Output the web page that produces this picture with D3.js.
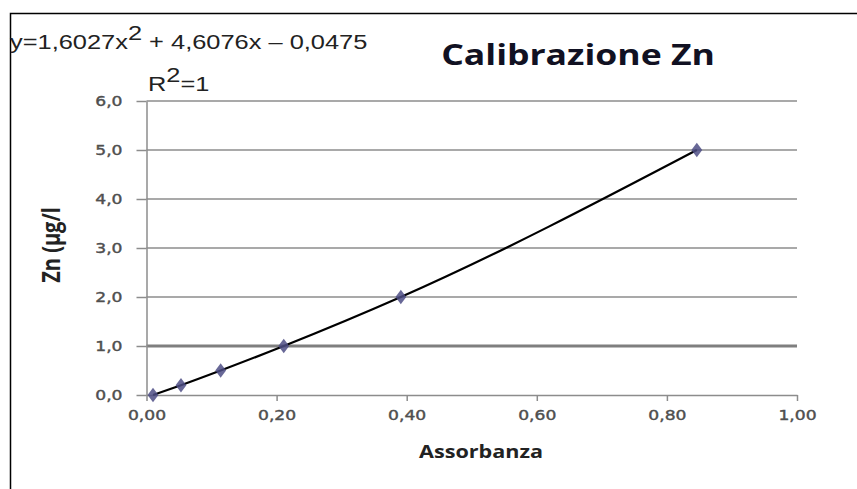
<!DOCTYPE html>
<html>
<head>
<meta charset="utf-8">
<script src="https://cdn.jsdelivr.net/npm/d3@7"></script>
<style>
  body { margin: 0; background: #fff; }
  svg { display: block; }
</style>
</head>
<body>
<div id="chart"></div>
<script>
// data
var absorbance = [0.010, 0.053, 0.114, 0.211, 0.391, 0.846];
var zinc = [0.0, 0.2, 0.5, 1.0, 2.0, 5.0];
var xTicks = [0, 0.2, 0.4, 0.6, 0.8, 1.0];
var yTicks = [0, 1, 2, 3, 4, 5, 6];
var equationParts = ["y=1,6027x", "2", " + 4,6076x \u2013 0,0475"];

var points = absorbance.map(function(a, i) { return { x: a, y: zinc[i] }; });

// the original picture is stretched sideways, so the text is too
var stretch = 1.27;

var width_all = 857, height_all = 489;
var margin = { top: 101, right: 60, bottom: 94, left: 146.5 },
    width = width_all - margin.left - margin.right,
    height = height_all - margin.top - margin.bottom;

var root = d3.select("#chart")
    .append("svg")
    .attr("width", width_all)
    .attr("height", height_all);

// frame (only top and left edges are in the picture)
root.append("path")
    .attr("d", "M10.5,489 L10.5,13.5 L857,13.5")
    .attr("fill", "none")
    .attr("stroke", "#000")
    .attr("stroke-width", 1.5);

var svg = root.append("g")
    .attr("transform", "translate(" + margin.left + "," + margin.top + ")");

var x = d3.scaleLinear().domain([0, 1]).range([0, width]);
var y = d3.scaleLinear().domain([0, 6]).range([height, 0]);

// horizontal gridlines
svg.append("g")
    .selectAll("line")
    .data(yTicks.filter(function(d) { return d > 0; }))
    .enter()
    .append("line")
    .attr("x1", 0)
    .attr("x2", width)
    .attr("y1", function(d) { return y(d); })
    .attr("y2", function(d) { return y(d); })
    .attr("stroke", function(d) { return d == 1 ? "#7f7f7f" : "#8c8c8c"; })
    .attr("stroke-width", function(d) { return d == 1 ? 3 : 1.5; });

// y axis
var yAxis = svg.append("g")
    .call(d3.axisLeft(y).tickValues(yTicks).tickSize(10).tickSizeOuter(0)
        .tickFormat(function(d) { return d3.format(".1f")(d).replace(".", ","); }));

// x axis
var xAxis = svg.append("g")
    .attr("transform", "translate(0," + height + ")")
    .call(d3.axisBottom(x).tickValues(xTicks).tickSize(6).tickSizeOuter(0)
        .tickFormat(function(d) { return d3.format(".2f")(d).replace(".", ","); }));

[yAxis, xAxis].forEach(function(ax) {
    ax.select(".domain").attr("stroke", "#8c8c8c").attr("stroke-width", 1.5);
    ax.selectAll(".tick line").attr("stroke", "#8c8c8c").attr("stroke-width", 1.5);
    ax.selectAll(".tick text")
        .attr("fill", "#4f4f4f")
        .attr("stroke", "#4f4f4f")
        .attr("stroke-width", 0.4)
        .attr("font-family", "DejaVu Sans")
        .attr("font-size", "13.5px")
        .attr("transform", "scale(" + stretch + ",1)");
});
yAxis.selectAll(".tick text").attr("x", -24 / stretch);
xAxis.selectAll(".tick text").attr("y", 15);

// trendline through the points
svg.append("path")
    .datum(points)
    .attr("fill", "none")
    .attr("stroke", "#000")
    .attr("stroke-width", 2.2)
    .attr("d", d3.line()
        .x(function(d) { return x(d.x); })
        .y(function(d) { return y(d.y); })
        .curve(d3.curveMonotoneX));

// diamond markers
svg.append("g")
    .selectAll("path")
    .data(points)
    .enter()
    .append("path")
    .attr("transform", function(d) { return "translate(" + x(d.x) + "," + y(d.y) + ") scale(1.3,1)"; })
    .attr("d", d3.symbol().type(d3.symbolDiamond).size(60))
    .attr("fill", "#4d4d85")
    .attr("opacity", 0.85);

// title
root.append("text")
    .attr("transform", "translate(578,65) scale(" + stretch + ",1)")
    .attr("text-anchor", "middle")
    .attr("font-family", "Open Sans")
    .attr("font-weight", "bold")
    .attr("font-size", "28px")
    .attr("fill", "#111122")
    .text("Calibrazione Zn");

// trendline equation
var eq = root.append("text")
    .attr("transform", "translate(10,49) scale(" + stretch + ",1)")
    .attr("font-family", "Liberation Sans")
    .attr("font-size", "20px")
    .attr("fill", "#222");
eq.append("tspan").text(equationParts[0]);
eq.append("tspan").attr("dy", -9).text(equationParts[1]);
eq.append("tspan").attr("dy", 9).text(equationParts[2]);

var r2 = root.append("text")
    .attr("transform", "translate(148,91) scale(" + stretch + ",1)")
    .attr("font-family", "Liberation Sans")
    .attr("font-size", "20px")
    .attr("fill", "#222");
r2.append("tspan").text("R");
r2.append("tspan").attr("dy", -9).text("2");
r2.append("tspan").attr("dy", 9).text("=1");

// axis labels
root.append("text")
    .attr("transform", "translate(481,458) scale(" + stretch + ",1)")
    .attr("text-anchor", "middle")
    .attr("font-family", "Open Sans")
    .attr("font-weight", "bold")
    .attr("font-size", "17px")
    .attr("fill", "#222")
    .text("Assorbanza");

root.append("text")
    .attr("transform", "translate(60,245) scale(" + stretch + ",1) rotate(-90)")
    .attr("text-anchor", "middle")
    .attr("font-family", "Open Sans")
    .attr("font-weight", "bold")
    .attr("font-size", "20px")
    .attr("fill", "#222")
    .text("Zn (\u00b5g/l");
</script>
</body>
</html>
